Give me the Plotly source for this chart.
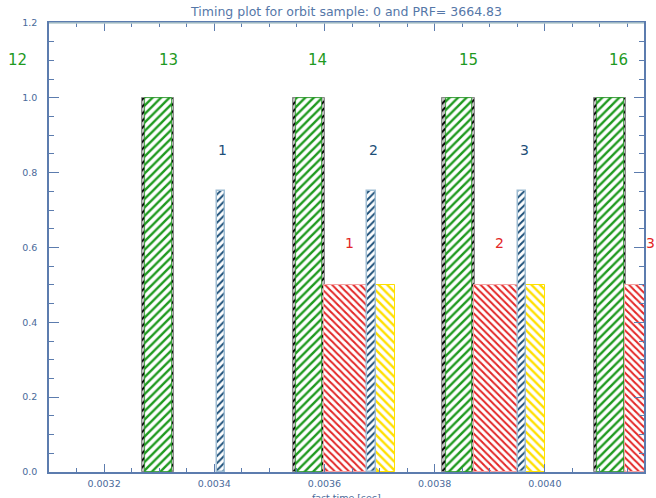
import plotly.graph_objects as go

# ---- data (seconds / normalised heights) ----
gate_start = [0.003269, 0.003542, 0.003814, 0.004089]      # grey/black receive-gate edges
gate_width = [0.0000584, 0.0000584, 0.0000584, 0.0000584]
gate_height = [1.0, 1.0, 1.0, 1.0]

tx_start = [0.003275, 0.003548, 0.003820, 0.004095]        # green transmit pulses
tx_width = [0.0000480, 0.0000480, 0.0000480, 0.0000480]
tx_height = [1.0, 1.0, 1.0, 1.0]
tx_label_x = [0.003043, 0.003316, 0.003588, 0.003861, 0.004133]
tx_label_y = [1.1, 1.1, 1.1, 1.1, 1.1]
tx_labels = ["12", "13", "14", "15", "16"]

nadir_start = [0.003405, 0.003678, 0.0039505]               # blue
nadir_width = [0.0000148, 0.0000148, 0.0000148]
nadir_height = [0.75, 0.75, 0.75]
nadir_label_x = [0.0034150, 0.0036882, 0.0039622]
nadir_label_y = [0.86, 0.86, 0.86]
nadir_labels = ["1", "2", "3"]

echo_start = [0.0035996, 0.0038720, 0.0041452]              # red
echo_width = [0.0000785, 0.0000785, 0.0000785]
echo_height = [0.5, 0.5, 0.5]
echo_label_x = [0.0036461, 0.0039174, 0.0041917]
echo_label_y = [0.612, 0.612, 0.612]
echo_labels = ["1", "2", "3"]

extra_start = [0.0036926, 0.0039662]                        # yellow
extra_width = [0.0000349, 0.0000349]
extra_height = [0.5, 0.5]

x_range = [0.0031, 0.00418]
y_range = [0.0, 1.2]

AX = "#5c7cae"
TXT = "#4a6a9a"
GREEN = "#1f9a1f"
BLUE = "#1d4f78"
RED = "#e32626"
YEL = "#ffe000"

fig = go.Figure()

def bars(xs, ws, hs, fg, bg, shape, line_col, line_w, size=6, sol=0.4):
    fig.add_trace(go.Bar(
        x=xs, y=hs, width=ws, offset=0, base=0, opacity=1,
        marker=dict(color=bg, opacity=1, line=dict(color=line_col, width=line_w),
                    pattern=dict(shape=shape, fgcolor=fg, bgcolor=bg,
                                 size=size, solidity=sol, fillmode="replace")),
        showlegend=False, hoverinfo="skip"))

bars(gate_start, gate_width, gate_height, "#000000", "#c4c4c4", "/", "#8a8a8a", 1, size=5, sol=0.4)
bars(tx_start, tx_width, tx_height, GREEN, "#ffffff", "/", GREEN, 0.8, size=6, sol=0.4)
bars(echo_start, echo_width, echo_height, RED, "#ffffff", "\\", "#f4a3a3", 1, size=5, sol=0.4)
bars(extra_start, extra_width, extra_height, YEL, "#ffffff", "\\", YEL, 1, size=6, sol=0.4)
bars(nadir_start, nadir_width, nadir_height, BLUE, "#ffffff", "/", "#9fbdd3", 1.5, size=5, sol=0.4)

span = x_range[1] - x_range[0]

def labels(xs, ys, ts, col, size):
    for xv, yv, t in zip(xs, ys, ts):
        fig.add_annotation(x=(xv - x_range[0]) / span, xref="paper", y=yv, yref="y",
                           text=t, showarrow=False, xanchor="center", yanchor="middle",
                           font=dict(color=col, size=size, family="DejaVu Sans"))

labels(tx_label_x, tx_label_y, tx_labels, GREEN, 15)
labels(nadir_label_x, nadir_label_y, nadir_labels, BLUE, 14)
labels(echo_label_x, echo_label_y, echo_labels, RED, 14)

# x-axis title, placed just under the tick labels (partly cut by the page edge as in the original)
fig.add_annotation(x=0.5, xref="paper", y=-0.04, yref="paper", text="fast time [sec]",
                   showarrow=False, xanchor="center", yanchor="top",
                   font=dict(size=9.5, color=TXT, family="DejaVu Sans"))

fig.update_layout(
    width=656, height=498,
    margin=dict(l=49, r=12, t=23, b=26, autoexpand=False),
    paper_bgcolor="white", plot_bgcolor="white",
    barmode="overlay", bargap=0,
    title=dict(text="Timing plot for orbit sample: 0 and PRF= 3664.83",
               x=0.5, xref="paper", xanchor="center", y=1 - 12 / 498, yanchor="middle",
               font=dict(family="DejaVu Sans", size=12.5, color="#5577a8")),
    font=dict(family="DejaVu Sans", color=AX),
)

fig.update_xaxes(
    range=x_range, showgrid=False, zeroline=False, automargin=False,
    showline=True, linecolor=AX, linewidth=1.5, mirror="ticks",
    ticks="inside", ticklen=8, tickcolor=AX, tickwidth=1.2,
    tick0=0.0032, dtick=0.0002, tickformat=".4f",
    tickfont=dict(size=9.5, color=TXT), ticklabelstandoff=2,
    minor=dict(ticks="inside", ticklen=4, dtick=0.00005, tickcolor=AX, showgrid=False),
)
fig.update_yaxes(
    range=y_range, showgrid=False, zeroline=False, automargin=False,
    showline=True, linecolor=AX, linewidth=1.5, mirror="ticks",
    ticks="inside", ticklen=10, tickcolor=AX, tickwidth=1.2,
    tick0=0, dtick=0.2, tickformat=".1f",
    tickfont=dict(size=9.5, color=TXT), ticklabelstandoff=8,
    minor=dict(ticks="inside", ticklen=5, dtick=0.05, tickcolor=AX, showgrid=False),
)

fig.add_shape(type="line", xref="paper", yref="paper", x0=0, x1=1, y0=1, y1=1,
              line=dict(color="#b3cacd", width=1.5), layer="above")

fig.write_html("out.html", config={"displayModeBar": False},
               post_script="document.body.style.margin='0';document.body.style.overflow='hidden';")
